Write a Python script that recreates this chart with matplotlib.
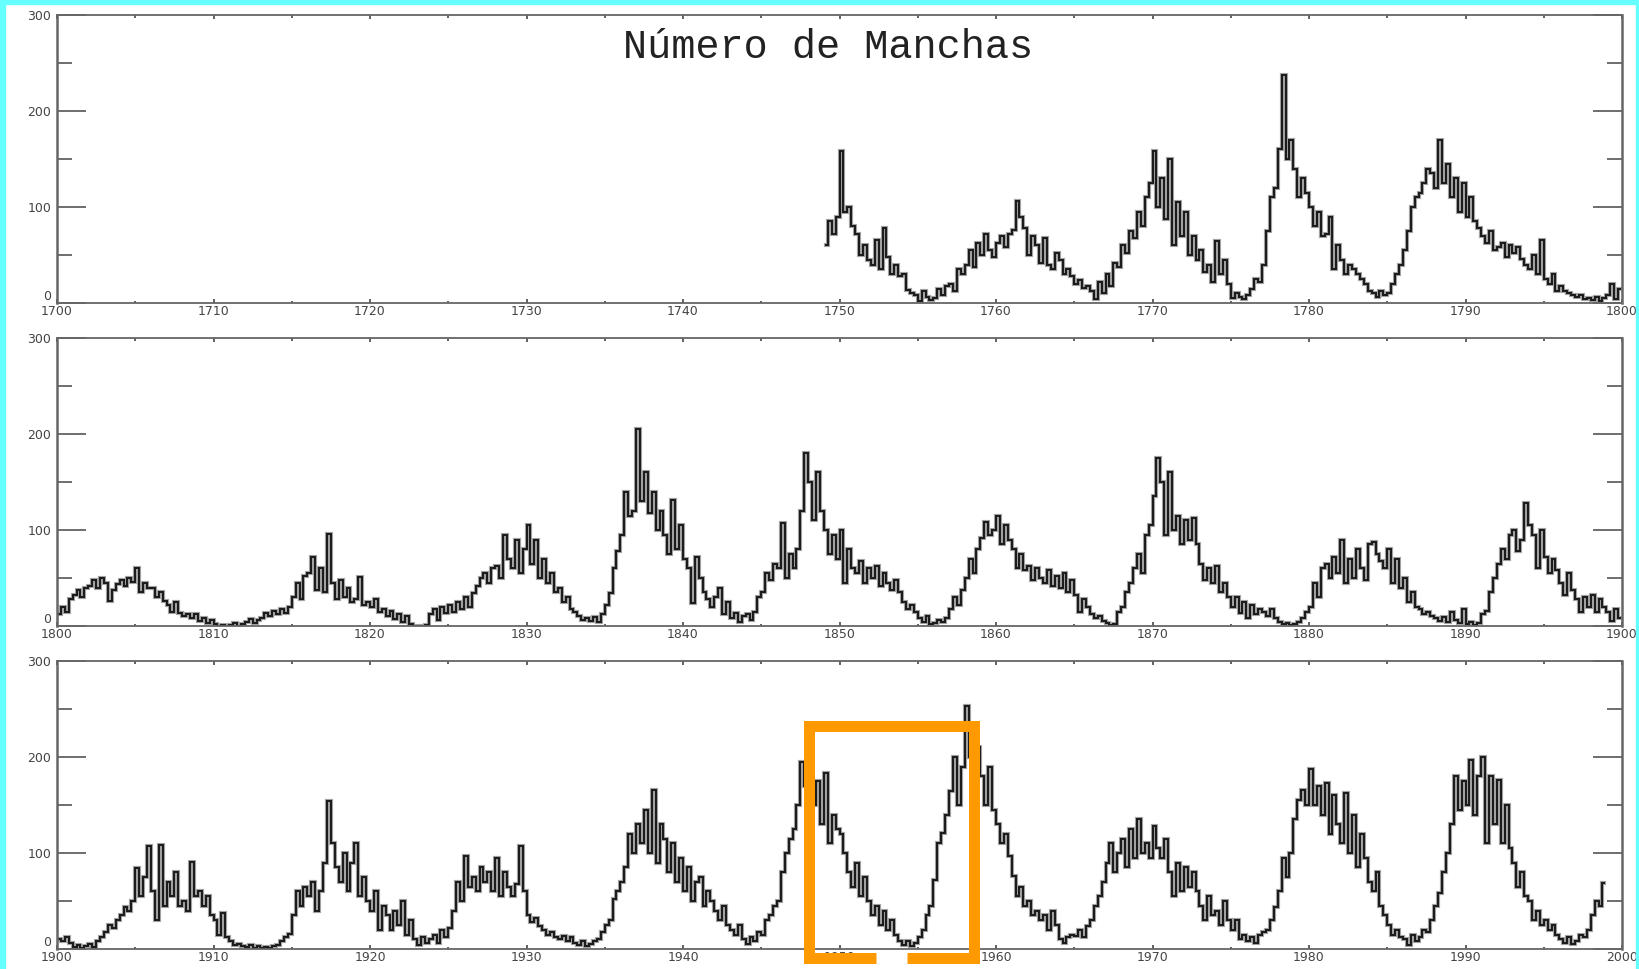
import matplotlib
matplotlib.use("Agg")
import matplotlib.pyplot as plt
from matplotlib.ticker import MultipleLocator, FormatStrFormatter
from matplotlib.lines import Line2D
from matplotlib.patches import Rectangle
import numpy as np

# ---------------- data (approx. quarterly sunspot numbers) -------------
TITLE = "Número de Manchas"
PANEL_RANGES = [(1700, 1800), (1800, 1900), (1900, 2000)]
Y_MAJOR = [0, 100, 200, 300]

START_1700S = 1749
SPOTS_1700S = [
    60, 85, 72, 90,      # 1749
    158, 95, 100, 80,    # 1750
    72, 50, 60, 45,
    40, 66, 35, 78,
    48, 30, 40, 28,
    30, 14, 10, 8,
    2, 12, 6, 3,         # 1755
    5, 15, 8, 18,
    20, 12, 35, 30,
    40, 55, 38, 62,
    50, 72, 55, 48,
    62, 70, 58, 72,      # 1760
    76, 106, 90, 78,
    50, 70, 60, 42,
    68, 40, 35, 52,
    45, 30, 35, 28,
    20, 24, 16, 18,      # 1765
    12, 4, 22, 10,
    30, 18, 42, 38,
    60, 52, 75, 68,
    95, 80, 110, 125,
    158, 100, 130, 88,   # 1770
    150, 60, 105, 70,
    95, 50, 70, 45,
    55, 32, 40, 22,
    65, 30, 45, 20,
    5, 10, 6, 4,         # 1775
    8, 15, 25, 22,
    40, 75, 110, 120,
    160, 238, 150, 170,
    140, 110, 130, 115,
    100, 80, 95, 70,     # 1780
    72, 90, 35, 60,
    45, 30, 40, 35,
    30, 25, 20, 12,
    10, 6, 12, 8,
    10, 20, 30, 40,      # 1785
    55, 75, 100, 110,
    115, 125, 140, 135,
    120, 170, 125, 145,
    110, 130, 95, 125,
    90, 110, 85, 78,     # 1790
    70, 62, 75, 55,
    58, 62, 48, 60,
    52, 58, 46, 40,
    35, 50, 30, 66,
    25, 20, 30, 12,      # 1795
    18, 12, 10, 8,
    6, 8, 4, 5,
    3, 6, 2, 5,
    8, 20, 4, 15,
]

START_1800S = 1800
SPOTS_1800S = [
    12, 20, 15, 28,      # 1800
    32, 38, 30, 40,
    42, 48, 40, 50,
    45, 26, 38, 44,
    48, 42, 50, 46,
    60, 35, 45, 40,      # 1805
    40, 30, 35, 26,
    22, 15, 25, 14,
    10, 12, 8, 13,
    5, 8, 3, 6,
    2, 0, 1, 0,          # 1810
    1, 3, 0, 2,
    4, 7, 3, 6,
    8, 14, 10, 16,
    12, 18, 14, 20,
    30, 45, 28, 52,      # 1815
    55, 72, 38, 60,
    35, 96, 45, 28,
    48, 30, 40, 25,
    28, 51, 22, 25,
    20, 28, 15, 18,      # 1820
    10, 16, 7, 12,
    4, 10, 2, 0,
    0, 0, 1, 12,
    18, 6, 20, 14,
    22, 15, 25, 18,      # 1825
    30, 20, 34, 42,
    50, 55, 45, 60,
    62, 50, 95, 70,
    60, 90, 55, 80,
    105, 65, 90, 50,     # 1830
    70, 45, 55, 35,
    40, 25, 30, 18,
    15, 10, 6, 8,
    5, 9, 4, 12,
    22, 34, 60, 78,      # 1835
    95, 140, 115, 120,
    205, 130, 160, 118,
    140, 100, 120, 95,
    75, 131, 80, 105,
    70, 60, 24, 72,      # 1840
    50, 35, 28, 20,
    30, 40, 12, 25,
    8, 14, 4, 10,
    12, 6, 15, 30,
    35, 55, 48, 65,      # 1845
    60, 107, 50, 75,
    60, 80, 120, 180,
    150, 110, 160, 120,
    100, 75, 95, 70,
    100, 45, 80, 60,     # 1850
    55, 68, 45, 60,
    50, 62, 42, 55,
    45, 38, 48, 35,
    25, 18, 22, 15,
    8, 4, 10, 2,         # 1855
    3, 6, 4, 8,
    18, 30, 22, 38,
    50, 70, 55, 80,
    92, 108, 95, 100,
    115, 85, 105, 90,    # 1860
    80, 60, 75, 58,
    62, 48, 60, 50,
    45, 58, 42, 52,
    40, 55, 35, 48,
    32, 15, 28, 20,      # 1865
    12, 8, 10, 5,
    3, 1, 2, 15,
    20, 35, 45, 60,
    75, 55, 95, 105,
    135, 175, 150, 95,   # 1870
    160, 100, 115, 85,
    110, 90, 112, 85,
    65, 48, 60, 45,
    62, 35, 45, 30,
    20, 30, 14, 25,      # 1875
    8, 22, 12, 18,
    15, 10, 18, 8,
    4, 2, 3, 1,
    2, 4, 8, 15,
    20, 45, 30, 60,      # 1880
    65, 50, 72, 55,
    90, 45, 70, 50,
    80, 60, 48, 85,
    88, 75, 68, 60,
    80, 45, 70, 40,      # 1885
    50, 25, 35, 20,
    18, 12, 15, 10,
    8, 5, 9, 4,
    15, 6, 3, 18,
    2, 4, 1, 3,          # 1890
    12, 16, 35, 50,
    65, 80, 70, 95,
    100, 78, 90, 128,
    105, 95, 60, 100,
    72, 55, 70, 58,      # 1895
    45, 32, 55, 38,
    28, 15, 30, 20,
    32, 15, 28, 20,
    15, 5, 18, 8,
]

START_1900S = 1900
SPOTS_1900S = [
    10, 8, 12, 6,        # 1900
    2, 4, 1, 3,
    5, 2, 8, 12,
    18, 25, 22, 30,
    35, 44, 40, 50,
    84, 55, 75, 107,     # 1905
    60, 30, 108, 45,
    70, 55, 80, 45,
    50, 40, 91, 55,
    60, 45, 55, 35,
    30, 15, 37, 12,      # 1910
    8, 4, 5, 3,
    2, 4, 1, 3,
    1, 2, 1, 3,
    4, 8, 12, 16,
    35, 60, 45, 65,      # 1915
    55, 70, 40, 60,
    90, 154, 110, 85,
    70, 100, 60, 90,
    110, 55, 75, 50,
    40, 60, 20, 45,      # 1920
    35, 20, 40, 25,
    50, 15, 30, 10,
    4, 12, 6, 10,
    15, 6, 20, 12,
    22, 40, 70, 50,      # 1925
    97, 65, 75, 60,
    85, 70, 80, 60,
    95, 55, 80, 65,
    55, 68, 107, 60,
    35, 28, 32, 24,      # 1930
    20, 15, 18, 13,
    10, 14, 8, 12,
    6, 4, 8, 3,
    5, 8, 10, 18,
    25, 30, 52, 60,      # 1935
    70, 85, 120, 100,
    130, 110, 145, 100,
    166, 90, 130, 115,
    80, 110, 70, 95,
    60, 85, 50, 70,      # 1940
    75, 45, 60, 50,
    40, 30, 45, 25,
    20, 15, 25, 10,
    5, 12, 8, 18,
    15, 30, 35, 45,      # 1945
    50, 80, 100, 115,
    125, 150, 195, 170,
    190, 150, 175, 130,
    183, 110, 140, 125,
    120, 100, 80, 65,    # 1950
    90, 55, 75, 50,
    35, 45, 25, 40,
    20, 30, 15, 8,
    4, 8, 3, 6,
    12, 20, 35, 45,      # 1955
    72, 110, 121, 140,
    165, 200, 150, 190,
    253, 200, 170, 210,
    180, 150, 190, 145,
    130, 110, 120, 97,   # 1960
    76, 55, 65, 45,
    50, 35, 40, 30,
    35, 20, 40, 25,
    10, 6, 12, 15,
    14, 20, 12, 24,      # 1965
    30, 45, 55, 70,
    90, 110, 80, 100,
    115, 85, 125, 95,
    135, 100, 110, 95,
    128, 105, 95, 115,   # 1970
    80, 55, 90, 60,
    85, 65, 80, 60,
    45, 30, 55, 35,
    40, 25, 50, 30,
    20, 30, 10, 15,      # 1975
    8, 12, 6, 15,
    18, 20, 30, 44,
    60, 95, 75, 100,
    135, 155, 166, 150,
    187, 150, 170, 140,  # 1980
    173, 120, 160, 130,
    110, 162, 100, 140,
    85, 120, 95, 70,
    60, 80, 45, 35,
    25, 15, 20, 13,      # 1985
    10, 4, 15, 8,
    12, 20, 18, 30,
    45, 58, 80, 100,
    130, 180, 145, 175,
    150, 197, 140, 180,  # 1990
    200, 110, 180, 130,
    176, 110, 150, 105,
    90, 65, 80, 55,
    50, 30, 40, 25,
    30, 20, 25, 15,      # 1995
    10, 6, 12, 5,
    8, 15, 12, 20,
    35, 50, 45, 69,
]

SERIES = [(START_1700S, SPOTS_1700S), (START_1800S, SPOTS_1800S), (START_1900S, SPOTS_1900S)]

# ---------------- figure -------------------------------------------------------------------
W, H = 1639, 969
fig = plt.figure(figsize=(W / 100, H / 100), dpi=100)
fig.patch.set_facecolor("white")

def fx(px):
    return px / W

def fy(py):
    return 1 - py / H

left_px, right_px = 57, 1622
panel_px = [(15, 303), (338, 626), (661, 949)]

tick_col = "#555555"
for (x0, x1), (start, vals), (ptop, pbot) in zip(PANEL_RANGES, SERIES, panel_px):
    ax = fig.add_axes([fx(left_px), fy(pbot), fx(right_px) - fx(left_px), fy(ptop) - fy(pbot)])
    v = np.asarray(vals, dtype=float)
    t = start + np.arange(len(v)) * 0.25 + 0.125
    ax.plot(t, v, color="#a8a8a8", lw=3.0, drawstyle="steps-mid", solid_joinstyle="miter")
    ax.plot(t, v, color="#1c1c1c", lw=1.5, drawstyle="steps-mid", solid_joinstyle="miter")
    ax.set_xlim(x0, x1)
    ax.set_ylim(0, 300)
    ax.set_yticks(Y_MAJOR)
    ax.yaxis.set_minor_locator(MultipleLocator(50))
    ax.xaxis.set_major_locator(MultipleLocator(10))
    ax.xaxis.set_minor_locator(MultipleLocator(5))
    ax.xaxis.set_major_formatter(FormatStrFormatter("%d"))
    ax.tick_params(axis="y", which="major", direction="in", length=21, width=1.2,
                   left=True, right=True, colors=tick_col, labelsize=9, labelcolor="#444444", pad=4)
    ax.tick_params(axis="y", which="minor", direction="in", length=10.5, width=1.2,
                   left=True, right=True, colors=tick_col)
    ax.tick_params(axis="x", which="major", direction="in", length=3, width=1.3,
                   top=True, bottom=True, colors=tick_col, labelsize=9, labelcolor="#444444", pad=1.5)
    ax.tick_params(axis="x", which="minor", direction="in", length=1.8, width=1.3,
                   top=True, bottom=True, colors=tick_col)
    # the "0" label sits just above the baseline, as in the original
    ylabels = ax.get_yticklabels()
    ylabels[0].set_verticalalignment("bottom")
    for side, sp in ax.spines.items():
        sp.set_color("#666666")
        sp.set_linewidth(1.8 if side in ("left", "right") else 1.3)
    ax.set_facecolor("white")

fig.text(fx(828), fy(47), TITLE, ha="center", va="center",
         family=["Liberation Mono", "DejaVu Sans Mono"], fontsize=29, color="#222222")

# orange highlight box around the 1948-1958 cycle
orange = "#ff9900"
bx = [876, 808.5, 808.5, 973.5, 973.5, 907]
by = [958, 958, 725.5, 725.5, 958, 958]
fig.add_artist(Line2D([fx(p) for p in bx], [fy(p) for p in by], color=orange,
                      lw=11 * 72 / 100, solid_joinstyle="miter", solid_capstyle="butt",
                      transform=fig.transFigure))

# cyan frame
cyan = "#66ffff"
for (x, y, w, h) in [(0, 0, 5, H), (0, 0, W, 4), (W - 3, 0, 3, H)]:
    fig.add_artist(Rectangle((fx(x), fy(y + h)), w / W, h / H, color=cyan,
                             transform=fig.transFigure, zorder=10))

fig.savefig("out.png", dpi=100, facecolor="white")
